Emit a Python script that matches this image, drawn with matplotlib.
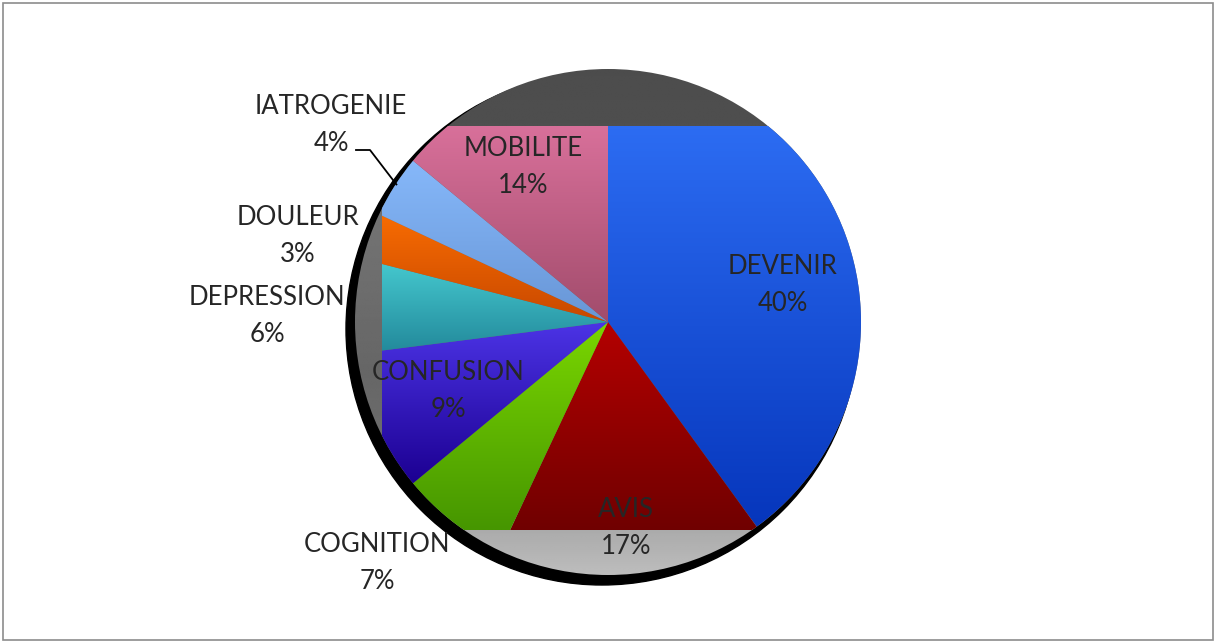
import numpy as np
import matplotlib
matplotlib.use("Agg")
import matplotlib.pyplot as plt
from matplotlib.colors import LinearSegmentedColormap
from matplotlib.patches import Circle, Rectangle

plt.rcParams["font.family"] = ["Lato", "DejaVu Sans"]

# data
categories = ["DEVENIR", "AVIS", "COGNITION", "CONFUSION",
              "DEPRESSION", "DOULEUR", "IATROGENIE", "MOBILITE"]
shares = [40, 17, 7, 9, 6, 3, 4, 14]

# gradient (top, bottom) per slice
grad_colors = [
    ("#2c6cf2", "#0636bc"),
    ("#b40000", "#700000"),
    ("#7ad600", "#469600"),
    ("#4c34e6", "#1c0092"),
    ("#46cad0", "#22889a"),
    ("#f86c02", "#c84800"),
    ("#86b8fa", "#6896d6"),
    ("#d8709a", "#a24c6c"),
]

# label block centres in pixel coords (x, y from top)
label_pos = [(783, 285), (626, 528), (377, 563), (448, 391),
             (267, 316), (298, 236), (331, 125), (523, 167)]

W, H = 1216, 643
cx, cy_pix, R = 608, 322, 253
cy = H - cy_pix
# colored slices get clipped to this box (Excel rendering artefact)
box_x0, box_x1 = 382, 870
box_y0, box_y1 = H - 530, H - 126

fig = plt.figure(figsize=(W / 100, H / 100), dpi=100)
ax = fig.add_axes([0, 0, 1, 1])

# shadow + grey back disc
ax.add_patch(Circle((cx - 6, cy - 7), R + 3, color="black", zorder=0))
back = Circle((cx, cy), R, facecolor="none", edgecolor="none", zorder=1)
ax.add_patch(back)
yy = np.linspace(0, 1, 256)
gray_stops = np.interp(yy, [0, 0.12, 0.3, 0.6, 0.85, 0.9, 1.0],
                       [0.30, 0.31, 0.45, 0.40, 0.45, 0.66, 0.74])
gimg = np.repeat(gray_stops[:, None], 2, axis=1)
im = ax.imshow(gimg, cmap="gray", vmin=0, vmax=1, aspect="auto",
               extent=[cx - R, cx + R, cy - R, cy + R], origin="upper",
               zorder=1, interpolation="bilinear")
im.set_clip_path(back)

wedges, _ = ax.pie(shares, startangle=90, counterclock=False,
                   center=(cx, cy), radius=R,
                   wedgeprops=dict(facecolor="none", edgecolor="none"))

for w, (c_top, c_bot) in zip(wedges, grad_colors):
    w.set_zorder(2)
    th = np.radians(np.linspace(w.theta1, w.theta2, 200))
    xs = np.concatenate([[cx], cx + R * np.cos(th)])
    ys = np.concatenate([[cy], cy + R * np.sin(th)])
    x0, x1 = max(xs.min(), box_x0), min(xs.max(), box_x1)
    y0, y1 = max(ys.min(), box_y0), min(ys.max(), box_y1)
    cmap = LinearSegmentedColormap.from_list("g", [c_bot, c_top])
    grad = np.linspace(1, 0, 128)[:, None]
    wim = ax.imshow(np.repeat(grad, 2, axis=1), cmap=cmap, vmin=0, vmax=1,
                    aspect="auto", extent=[x0, x1, y0, y1], origin="upper",
                    zorder=2, interpolation="bilinear")
    wim.set_clip_path(w)

# labels
for name, v, (lx, ly) in zip(categories, shares, label_pos):
    ax.text(lx, H - ly, f"{name}\n{v}%", ha="center", va="center",
            fontsize=18.5, color="#262626", linespacing=1.58, zorder=5)

# leader line for IATROGENIE
iw = wedges[categories.index("IATROGENIE")]
mid = np.radians((iw.theta1 + iw.theta2) / 2)
ex, ey = cx + R * np.cos(mid), cy + R * np.sin(mid)
ax.plot([356, 370, ex + 2], [H - 150, H - 150, ey + 2],
        color="black", lw=1.3, zorder=5)

ax.set_xlim(0, W)
ax.set_ylim(0, H)
ax.set_aspect("auto")
ax.axis("off")

fig.patches.append(Rectangle((3 / W, 3 / H), 1 - 6 / W, 1 - 6 / H,
                             transform=fig.transFigure, fill=False,
                             edgecolor="#8c8c8c", lw=1.2))

fig.savefig("out.png", dpi=100)
